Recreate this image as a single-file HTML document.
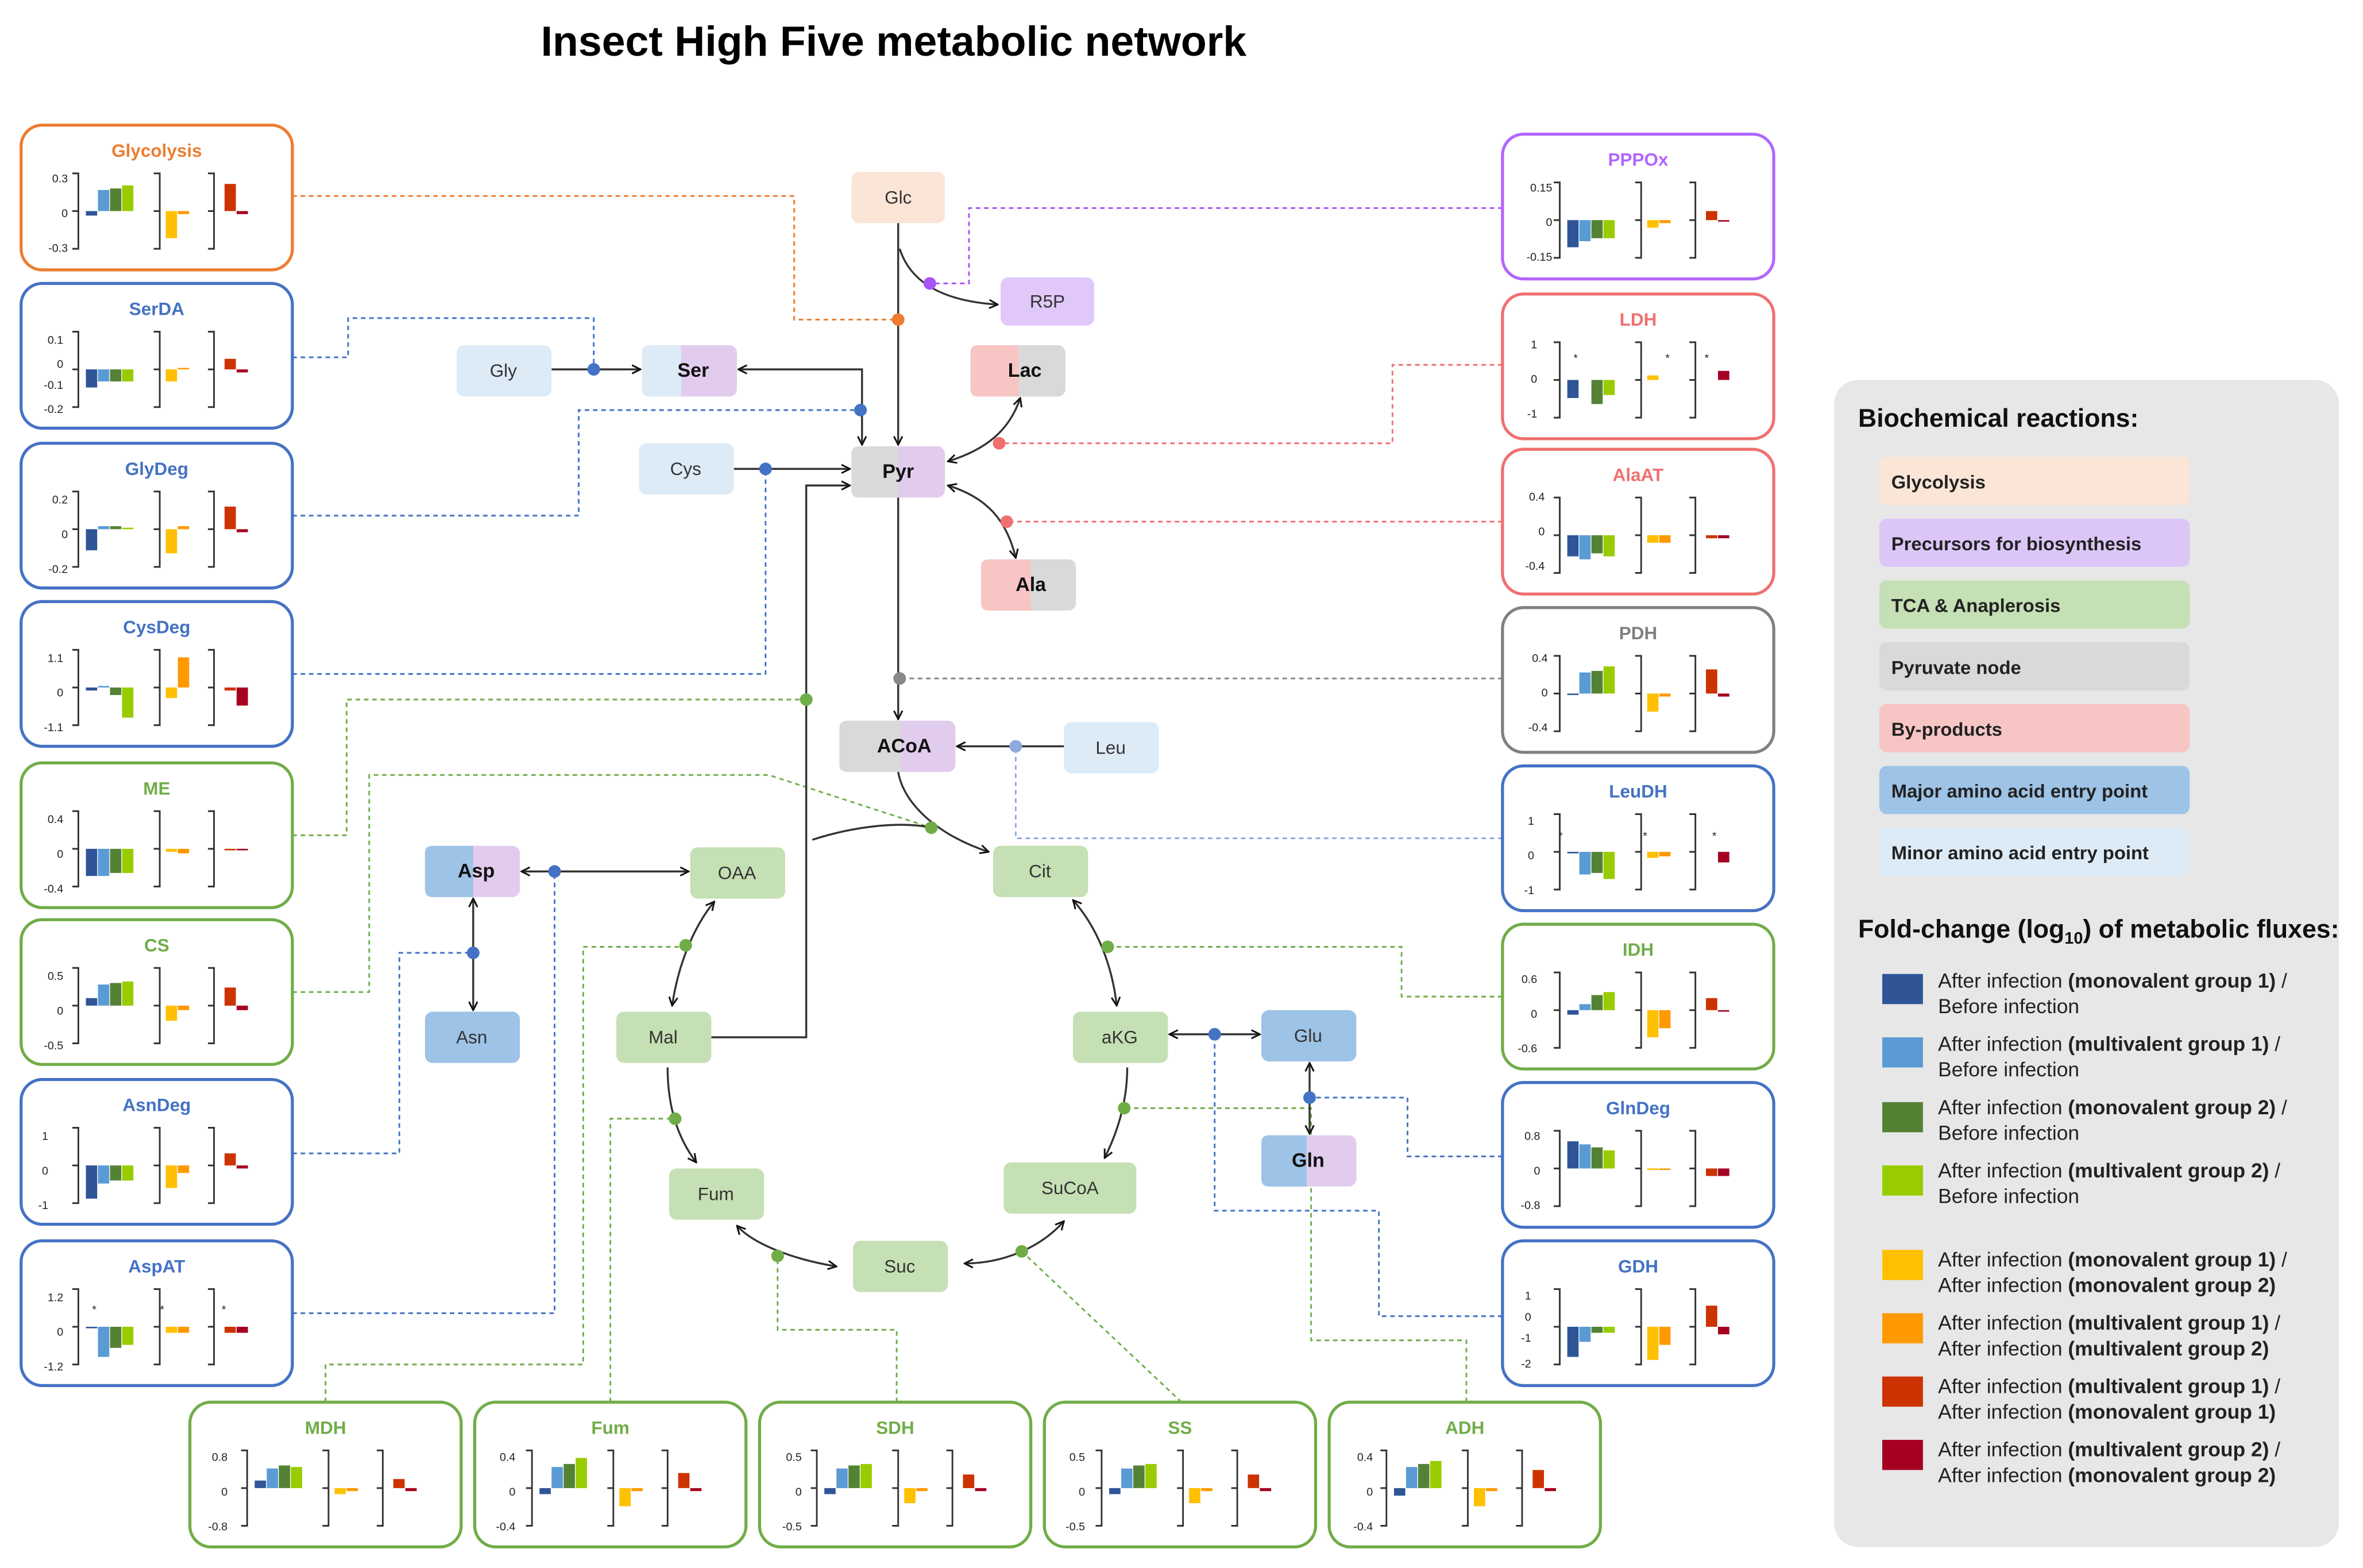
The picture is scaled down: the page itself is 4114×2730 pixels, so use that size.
<!DOCTYPE html>
<html><head><meta charset="utf-8">
<style>
html,body{margin:0;padding:0;background:#fff;}
svg{display:block;}
text{font-family:"Liberation Sans",Arial,sans-serif;}
.pt{font-size:12px;font-weight:bold;text-anchor:middle;}
.tk{font-size:7.5px;text-anchor:end;fill:#222;}
.nd{font-size:12px;text-anchor:middle;fill:#333;}
.ndb{font-size:13px;font-weight:bold;text-anchor:middle;fill:#111;}
.lg{font-size:12.5px;font-weight:bold;fill:#222;}
.lt{font-size:13.5px;fill:#222;}
.dash{fill:none;stroke-width:1.1;stroke-dasharray:3,2.5;}
.ar{fill:none;stroke:#333;stroke-width:1.3;}
</style></head>
<body>
<svg id="s" width="4114" height="2730" viewBox="0 0 1568 1040" preserveAspectRatio="none" xmlns="http://www.w3.org/2000/svg">
<defs>
<marker id="a" viewBox="0 0 10 10" refX="9" refY="5" markerWidth="7" markerHeight="7" orient="auto-start-reverse" markerUnits="userSpaceOnUse">
<path d="M1,1 L9,5 L1,9" fill="none" stroke="#111" stroke-width="1.6"/></marker>
</defs>
<rect width="1568" height="1040" fill="#fff"/>
<text x="593" y="37" style="font-size:28px;font-weight:bold;text-anchor:middle;fill:#000">Insect High Five metabolic network</text>

<g>
<path class="dash" stroke="#ED7D31" d="M194,130 H527 V212 H596"/>
<path class="dash" stroke="#A855F7" d="M997,138 H643 V188 H617"/>
<path class="dash" stroke="#4472C4" d="M194,237 H231 V211 H394 V245"/>
<path class="dash" stroke="#4472C4" d="M194,342 H384 V272 H571"/>
<path class="dash" stroke="#4472C4" d="M194,447 H508 V311"/>
<path class="dash" stroke="#F07070" d="M997,242 H924 V294 H663"/>
<path class="dash" stroke="#F07070" d="M997,346 H668"/>
<path class="dash" stroke="#888" d="M997,450 H597"/>
<path class="dash" stroke="#70AD47" d="M194,554 H230 V464 H535"/>
<path class="dash" stroke="#70AD47" d="M194,658 H245 V514 H510 L618,549"/>
<path class="dash" stroke="#8FAADC" d="M997,556 H674 V495"/>
<path class="dash" stroke="#4472C4" d="M194,765 H265 V632 H314"/>
<path class="dash" stroke="#4472C4" d="M194,871 H368 V578"/>
<path class="dash" stroke="#70AD47" d="M997,661 H930 V628 H735"/>
<path class="dash" stroke="#4472C4" d="M997,767 H934 V728 H869"/>
<path class="dash" stroke="#4472C4" d="M997,873 H915 V803 H806 V686"/>
<path class="dash" stroke="#70AD47" d="M216,930 V905 H387 V628 H455"/>
<path class="dash" stroke="#70AD47" d="M405,930 V742 H448"/>
<path class="dash" stroke="#70AD47" d="M595,930 V882 H516 V833"/>
<path class="dash" stroke="#70AD47" d="M784,930 L678,830"/>
<path class="dash" stroke="#70AD47" d="M973,930 V889 H870 V735 H746"/>
</g>

<g class="ar">
<path d="M596,148 V295" marker-end="url(#a)"/>
<path d="M597,165 C605,190 630,200 662,202" marker-end="url(#a)"/>
<path d="M366,245 H425" marker-end="url(#a)"/>
<path d="M490,245 H572 V295" marker-start="url(#a)" marker-end="url(#a)"/>
<path d="M487,311 H564" marker-end="url(#a)"/>
<path d="M472,688 H535 V322 H564" marker-end="url(#a)"/>
<path d="M629,306 C655,298 670,285 677,264" marker-start="url(#a)" marker-end="url(#a)"/>
<path d="M629,322 C655,330 668,345 674,370" marker-start="url(#a)" marker-end="url(#a)"/>
<path d="M596,330 V477" marker-end="url(#a)"/>
<path d="M706,495 H635" marker-end="url(#a)"/>
<path d="M596,512 C600,535 625,555 656,565" marker-end="url(#a)"/>
<path d="M539,557 C570,547 600,545 618,549"/>
<path d="M346,578 H457" marker-start="url(#a)" marker-end="url(#a)"/>
<path d="M314,596 V670" marker-start="url(#a)" marker-end="url(#a)"/>
<path d="M474,598 C460,615 450,640 446,667" marker-start="url(#a)" marker-end="url(#a)"/>
<path d="M712,597 C728,615 738,640 741,667" marker-start="url(#a)" marker-end="url(#a)"/>
<path d="M776,686 H836" marker-start="url(#a)" marker-end="url(#a)"/>
<path d="M869,705 V752" marker-start="url(#a)" marker-end="url(#a)"/>
<path d="M748,708 C748,730 742,750 733,768" marker-end="url(#a)"/>
<path d="M706,810 C690,828 665,838 640,838" marker-start="url(#a)" marker-end="url(#a)"/>
<path d="M555,840 C525,835 500,825 489,813" marker-start="url(#a)" marker-end="url(#a)"/>
<path d="M443,708 C443,735 450,755 462,771" marker-end="url(#a)"/>
</g>

<g>
<circle cx="596" cy="212" r="4.2" fill="#ED7D31"/>
<circle cx="617" cy="188" r="4.2" fill="#A855F7"/>
<circle cx="394" cy="245" r="4.2" fill="#4472C4"/>
<circle cx="571" cy="272" r="4.2" fill="#4472C4"/>
<circle cx="508" cy="311" r="4.2" fill="#4472C4"/>
<circle cx="663" cy="294" r="4.2" fill="#F07070"/>
<circle cx="668" cy="346" r="4.2" fill="#F07070"/>
<circle cx="597" cy="450" r="4.2" fill="#888"/>
<circle cx="535" cy="464" r="4.2" fill="#70AD47"/>
<circle cx="618" cy="549" r="4.2" fill="#70AD47"/>
<circle cx="674" cy="495" r="4.2" fill="#8FAADC"/>
<circle cx="314" cy="632" r="4.2" fill="#4472C4"/>
<circle cx="368" cy="578" r="4.2" fill="#4472C4"/>
<circle cx="735" cy="628" r="4.2" fill="#70AD47"/>
<circle cx="869" cy="728" r="4.2" fill="#4472C4"/>
<circle cx="806" cy="686" r="4.2" fill="#4472C4"/>
<circle cx="455" cy="627" r="4.2" fill="#70AD47"/>
<circle cx="448" cy="742" r="4.2" fill="#70AD47"/>
<circle cx="516" cy="833" r="4.2" fill="#70AD47"/>
<circle cx="678" cy="830" r="4.2" fill="#70AD47"/>
<circle cx="746" cy="735" r="4.2" fill="#70AD47"/>
</g>

<g>
<rect x="565" y="114" width="62" height="34" rx="5" fill="#FBE5D6"/><text class="nd" x="596" y="135">Glc</text>
<rect x="664" y="184" width="62" height="32" rx="5" fill="#E0C8FA"/><text class="nd" x="695" y="204">R5P</text>
<rect x="644" y="229" width="63" height="34" rx="5" fill="#D9D9D9"/><path d="M649,229 H676 V263 H649 Q644,263 644,258 V234 Q644,229 649,229Z" fill="#F8C5C5"/><text class="ndb" x="680" y="250">Lac</text>
<rect x="303" y="229" width="63" height="34" rx="5" fill="#DDEBF7"/><text class="nd" x="334" y="250">Gly</text>
<rect x="426" y="229" width="63" height="34" rx="5" fill="#E1CCEE"/><path d="M431,229 H452 V263 H431 Q426,263 426,258 V234 Q426,229 431,229Z" fill="#DDEBF7"/><text class="ndb" x="460" y="250">Ser</text>
<rect x="424" y="294" width="63" height="34" rx="5" fill="#DDEBF7"/><text class="nd" x="455" y="315">Cys</text>
<rect x="565" y="296" width="62" height="34" rx="5" fill="#E1CCEE"/><path d="M570,296 H596 V330 H570 Q565,330 565,325 V301 Q565,296 570,296Z" fill="#D9D9D9"/><text class="ndb" x="596" y="317">Pyr</text>
<rect x="651" y="371" width="63" height="34" rx="5" fill="#D9D9D9"/><path d="M656,371 H684 V405 H656 Q651,405 651,400 V376 Q651,371 656,371Z" fill="#F8C5C5"/><text class="ndb" x="684" y="392">Ala</text>
<rect x="557" y="478" width="77" height="34" rx="5" fill="#E1CCEE"/><path d="M562,478 H598 V512 H562 Q557,512 557,507 V483 Q557,478 562,478Z" fill="#D9D9D9"/><text class="ndb" x="600" y="499">ACoA</text>
<rect x="706" y="479" width="63" height="34" rx="5" fill="#DDEBF7"/><text class="nd" x="737" y="500">Leu</text>
<rect x="282" y="561" width="63" height="34" rx="5" fill="#E1CCEE"/><path d="M287,561 H314 V595 H287 Q282,595 282,590 V566 Q282,561 287,561Z" fill="#9DC3E6"/><text class="ndb" x="316" y="582">Asp</text>
<rect x="458" y="562" width="63" height="34" rx="5" fill="#C5E0B4"/><text class="nd" x="489" y="583">OAA</text>
<rect x="659" y="561" width="63" height="34" rx="5" fill="#C5E0B4"/><text class="nd" x="690" y="582">Cit</text>
<rect x="282" y="671" width="63" height="34" rx="5" fill="#9DC3E6"/><text class="nd" x="313" y="692">Asn</text>
<rect x="409" y="671" width="63" height="34" rx="5" fill="#C5E0B4"/><text class="nd" x="440" y="692">Mal</text>
<rect x="712" y="671" width="63" height="34" rx="5" fill="#C5E0B4"/><text class="nd" x="743" y="692">aKG</text>
<rect x="837" y="670" width="63" height="34" rx="5" fill="#9DC3E6"/><text class="nd" x="868" y="691">Glu</text>
<rect x="837" y="753" width="63" height="34" rx="5" fill="#E1CCEE"/><path d="M842,753 H867 V787 H842 Q837,787 837,782 V758 Q837,753 842,753Z" fill="#9DC3E6"/><text class="ndb" x="868" y="774">Gln</text>
<rect x="444" y="775" width="63" height="34" rx="5" fill="#C5E0B4"/><text class="nd" x="475" y="796">Fum</text>
<rect x="666" y="771" width="88" height="34" rx="5" fill="#C5E0B4"/><text class="nd" x="710" y="792">SuCoA</text>
<rect x="566" y="823" width="63" height="34" rx="5" fill="#C5E0B4"/><text class="nd" x="597" y="844">Suc</text>
</g>

<g id="frames" fill="#fff" stroke-width="2">
<rect x="14" y="83" width="180" height="96" rx="14" stroke="#ED7D31"/>
<rect x="14" y="188" width="180" height="96" rx="14" stroke="#4472C4"/>
<rect x="14" y="294" width="180" height="96" rx="14" stroke="#4472C4"/>
<rect x="14" y="399" width="180" height="96" rx="14" stroke="#4472C4"/>
<rect x="14" y="506" width="180" height="96" rx="14" stroke="#70AD47"/>
<rect x="14" y="610" width="180" height="96" rx="14" stroke="#70AD47"/>
<rect x="14" y="716" width="180" height="96" rx="14" stroke="#4472C4"/>
<rect x="14" y="823" width="180" height="96" rx="14" stroke="#4472C4"/>
<rect x="997" y="89" width="180" height="96" rx="14" stroke="#B266FF"/>
<rect x="997" y="195" width="180" height="96" rx="14" stroke="#F07070"/>
<rect x="997" y="298" width="180" height="96" rx="14" stroke="#F07070"/>
<rect x="997" y="403" width="180" height="96" rx="14" stroke="#808080"/>
<rect x="997" y="508" width="180" height="96" rx="14" stroke="#4472C4"/>
<rect x="997" y="613" width="180" height="96" rx="14" stroke="#70AD47"/>
<rect x="997" y="718" width="180" height="96" rx="14" stroke="#4472C4"/>
<rect x="997" y="823" width="180" height="96" rx="14" stroke="#4472C4"/>
<rect x="126" y="930" width="180" height="96" rx="14" stroke="#70AD47"/>
<rect x="315" y="930" width="180" height="96" rx="14" stroke="#70AD47"/>
<rect x="504" y="930" width="180" height="96" rx="14" stroke="#70AD47"/>
<rect x="693" y="930" width="180" height="96" rx="14" stroke="#70AD47"/>
<rect x="882" y="930" width="180" height="96" rx="14" stroke="#70AD47"/>
</g>
<g>
<text class="pt" fill="#ED7D31" x="104" y="104">Glycolysis</text>
<text class="pt" fill="#4472C4" x="104" y="209">SerDA</text>
<text class="pt" fill="#4472C4" x="104" y="315">GlyDeg</text>
<text class="pt" fill="#4472C4" x="104" y="420">CysDeg</text>
<text class="pt" fill="#70AD47" x="104" y="527">ME</text>
<text class="pt" fill="#70AD47" x="104" y="631">CS</text>
<text class="pt" fill="#4472C4" x="104" y="737">AsnDeg</text>
<text class="pt" fill="#4472C4" x="104" y="844">AspAT</text>
<text class="pt" fill="#B266FF" x="1087" y="110">PPPOx</text>
<text class="pt" fill="#F07070" x="1087" y="216">LDH</text>
<text class="pt" fill="#F07070" x="1087" y="319">AlaAT</text>
<text class="pt" fill="#808080" x="1087" y="424">PDH</text>
<text class="pt" fill="#4472C4" x="1087" y="529">LeuDH</text>
<text class="pt" fill="#70AD47" x="1087" y="634">IDH</text>
<text class="pt" fill="#4472C4" x="1087" y="739">GlnDeg</text>
<text class="pt" fill="#4472C4" x="1087" y="844">GDH</text>
<text class="pt" fill="#70AD47" x="216" y="951">MDH</text>
<text class="pt" fill="#70AD47" x="405" y="951">Fum</text>
<text class="pt" fill="#70AD47" x="594" y="951">SDH</text>
<text class="pt" fill="#70AD47" x="783" y="951">SS</text>
<text class="pt" fill="#70AD47" x="972" y="951">ADH</text>
</g>
<g>
<text class="tk" x="45" y="121">0.3</text><text class="tk" x="45" y="144">0</text><text class="tk" x="45" y="167">-0.3</text>
<text class="tk" x="42" y="228">0.1</text><text class="tk" x="42" y="244">0</text><text class="tk" x="42" y="258">-0.1</text><text class="tk" x="42" y="274">-0.2</text>
<text class="tk" x="45" y="334">0.2</text><text class="tk" x="45" y="357">0</text><text class="tk" x="45" y="380">-0.2</text>
<text class="tk" x="42" y="439">1.1</text><text class="tk" x="42" y="462">0</text><text class="tk" x="42" y="485">-1.1</text>
<text class="tk" x="42" y="546">0.4</text><text class="tk" x="42" y="569">0</text><text class="tk" x="42" y="592">-0.4</text>
<text class="tk" x="42" y="650">0.5</text><text class="tk" x="42" y="673">0</text><text class="tk" x="42" y="696">-0.5</text>
<text class="tk" x="32" y="756">1</text><text class="tk" x="32" y="779">0</text><text class="tk" x="32" y="802">-1</text>
<text class="tk" x="42" y="863">1.2</text><text class="tk" x="42" y="886">0</text><text class="tk" x="42" y="909">-1.2</text>
<text class="tk" x="1030" y="127">0.15</text><text class="tk" x="1030" y="150">0</text><text class="tk" x="1030" y="173">-0.15</text>
<text class="tk" x="1020" y="231">1</text><text class="tk" x="1020" y="254">0</text><text class="tk" x="1020" y="277">-1</text>
<text class="tk" x="1025" y="332">0.4</text><text class="tk" x="1025" y="355">0</text><text class="tk" x="1025" y="378">-0.4</text>
<text class="tk" x="1027" y="439">0.4</text><text class="tk" x="1027" y="462">0</text><text class="tk" x="1027" y="485">-0.4</text>
<text class="tk" x="1018" y="547">1</text><text class="tk" x="1018" y="570">0</text><text class="tk" x="1018" y="593">-1</text>
<text class="tk" x="1020" y="652">0.6</text><text class="tk" x="1020" y="675">0</text><text class="tk" x="1020" y="698">-0.6</text>
<text class="tk" x="1022" y="756">0.8</text><text class="tk" x="1022" y="779">0</text><text class="tk" x="1022" y="802">-0.8</text>
<text class="tk" x="1016" y="862">1</text><text class="tk" x="1016" y="876">0</text><text class="tk" x="1016" y="890">-1</text><text class="tk" x="1016" y="907">-2</text>
<text class="tk" x="151" y="969">0.8</text><text class="tk" x="151" y="992">0</text><text class="tk" x="151" y="1015">-0.8</text>
<text class="tk" x="342" y="969">0.4</text><text class="tk" x="342" y="992">0</text><text class="tk" x="342" y="1015">-0.4</text>
<text class="tk" x="532" y="969">0.5</text><text class="tk" x="532" y="992">0</text><text class="tk" x="532" y="1015">-0.5</text>
<text class="tk" x="720" y="969">0.5</text><text class="tk" x="720" y="992">0</text><text class="tk" x="720" y="1015">-0.5</text>
<text class="tk" x="911" y="969">0.4</text><text class="tk" x="911" y="992">0</text><text class="tk" x="911" y="1015">-0.4</text>
<text class="tk" x="1047" y="240">*</text><text class="tk" x="1108" y="240">*</text><text class="tk" x="1134" y="240">*</text>
<text class="tk" x="1037" y="557">*</text><text class="tk" x="1093" y="557">*</text><text class="tk" x="1139" y="557">*</text>
<text class="tk" x="64" y="871">*</text><text class="tk" x="109" y="871">*</text><text class="tk" x="150" y="871">*</text>
</g>
<g id="charts"></g>

<rect x="1217" y="252" width="335" height="774" rx="16" fill="#E7E7E7"/>
<text x="1233" y="283" style="font-size:17px;font-weight:bold;fill:#111">Biochemical reactions:</text>
<rect x="1247" y="303" width="206" height="32" rx="5" fill="#FBE5D6"/><text class="lg" x="1255" y="324">Glycolysis</text>
<rect x="1247" y="344" width="206" height="32" rx="5" fill="#DCC6F8"/><text class="lg" x="1255" y="365">Precursors for biosynthesis</text>
<rect x="1247" y="385" width="206" height="32" rx="5" fill="#C5E0B4"/><text class="lg" x="1255" y="406">TCA &amp; Anaplerosis</text>
<rect x="1247" y="426" width="206" height="32" rx="5" fill="#D9D9D9"/><text class="lg" x="1255" y="447">Pyruvate node</text>
<rect x="1247" y="467" width="206" height="32" rx="5" fill="#F8C5C5"/><text class="lg" x="1255" y="488">By-products</text>
<rect x="1247" y="508" width="206" height="32" rx="5" fill="#9DC3E6"/><text class="lg" x="1255" y="529">Major amino acid entry point</text>
<rect x="1247" y="549" width="206" height="32" rx="5" fill="#DDEBF7"/><text class="lg" x="1255" y="570">Minor amino acid entry point</text>
<text x="1233" y="622" style="font-size:17px;font-weight:bold;fill:#111">Fold-change (log<tspan style="font-size:11px" dy="4">10</tspan><tspan dy="-4">) of metabolic fluxes:</tspan></text>
<g>
<rect x="1249" y="646" width="27" height="20" fill="#2F5597"/><text class="lt" x="1286" y="655">After infection <tspan font-weight="bold">(monovalent group 1)</tspan> /</text><text class="lt" x="1286" y="672">Before infection</text>
<rect x="1249" y="688" width="27" height="20" fill="#5B9BD5"/><text class="lt" x="1286" y="697">After infection <tspan font-weight="bold">(multivalent group 1)</tspan> /</text><text class="lt" x="1286" y="714">Before infection</text>
<rect x="1249" y="731" width="27" height="20" fill="#548235"/><text class="lt" x="1286" y="739">After infection <tspan font-weight="bold">(monovalent group 2)</tspan> /</text><text class="lt" x="1286" y="756">Before infection</text>
<rect x="1249" y="773" width="27" height="20" fill="#99CC00"/><text class="lt" x="1286" y="781">After infection <tspan font-weight="bold">(multivalent group 2)</tspan> /</text><text class="lt" x="1286" y="798">Before infection</text>
<rect x="1249" y="829" width="27" height="20" fill="#FFC000"/><text class="lt" x="1286" y="840">After infection <tspan font-weight="bold">(monovalent group 1)</tspan> /</text><text class="lt" x="1286" y="857">After infection <tspan font-weight="bold">(monovalent group 2)</tspan></text>
<rect x="1249" y="871" width="27" height="20" fill="#FF9900"/><text class="lt" x="1286" y="882">After infection <tspan font-weight="bold">(multivalent group 1)</tspan> /</text><text class="lt" x="1286" y="899">After infection <tspan font-weight="bold">(multivalent group 2)</tspan></text>
<rect x="1249" y="913" width="27" height="20" fill="#CC3300"/><text class="lt" x="1286" y="924">After infection <tspan font-weight="bold">(multivalent group 1)</tspan> /</text><text class="lt" x="1286" y="941">After infection <tspan font-weight="bold">(monovalent group 1)</tspan></text>
<rect x="1249" y="955" width="27" height="20" fill="#A50021"/><text class="lt" x="1286" y="966">After infection <tspan font-weight="bold">(multivalent group 2)</tspan> /</text><text class="lt" x="1286" y="983">After infection <tspan font-weight="bold">(monovalent group 2)</tspan></text>
</g>
</svg>
<script>
(function(){
var P=[
[14,83,[-3,14,15,17,-18,-2,18,-2]],
[14,188,[-12,-8,-8,-8,-8,1,7,-2]],
[14,294,[-14,2,2,1,-16,2,15,-2]],
[14,399,[-2,1,-5,-20,-7,20,-2,-12]],
[14,506,[-18,-18,-16,-16,-2,-3,-1,-1]],
[14,610,[5,14,15,16,-10,-3,12,-3]],
[14,716,[-22,-12,-10,-10,-15,-5,8,-2]],
[14,823,[-1,-20,-14,-12,-4,-4,-4,-4]],
[997,89,[-18,-14,-12,-12,-5,-2,6,-1]],
[997,195,[-12,0,-16,-10,3,0,0,6]],
[997,298,[-14,-16,-12,-14,-5,-5,-2,-2]],
[997,403,[-1,14,15,18,-12,-2,16,-2]],
[997,508,[-1,-15,-14,-18,-4,-3,0,-7]],
[997,613,[-3,4,10,12,-18,-12,8,-1]],
[997,718,[18,16,14,12,-1,-1,-5,-5]],
[997,823,[-20,-10,-4,-4,-22,-12,14,-5]],
[126,930,[5,13,15,14,-4,-2,6,-2]],
[315,930,[-4,14,16,20,-12,-2,10,-2]],
[504,930,[-4,13,15,16,-10,-2,9,-2]],
[693,930,[-4,13,15,16,-10,-2,9,-2]],
[882,930,[-5,14,16,18,-12,-2,12,-2]]];
var C=["#2F5597","#5B9BD5","#548235","#99CC00","#FFC000","#FF9900","#CC3300","#A50021"];
var X=[43,51,59,67,96,104,135,143];
var AX=[38,92,128];
var ns="http://www.w3.org/2000/svg",g=document.getElementById("charts");
function el(t,a){var e=document.createElementNS(ns,t);for(var k in a)e.setAttribute(k,a[k]);g.appendChild(e);}
P.forEach(function(p){
 var ox=p[0],oy=p[1],z=oy+57;
 AX.forEach(function(ax){
  var x=ox+ax;
  el("path",{d:"M"+(x-4)+","+(oy+32)+" H"+x+" V"+(oy+82)+" H"+(x-4)+" M"+(x-4)+","+z+" H"+x,fill:"none",stroke:"#333","stroke-width":"1.1"});
 });
 p[2].forEach(function(h,i){
  if(h===0)return;
  var y=h>0?z-h:z, hh=Math.abs(h);
  el("rect",{x:ox+X[i],y:y,width:7.5,height:hh,fill:C[i]});
 });
});
})();
</script>
</body></html>
